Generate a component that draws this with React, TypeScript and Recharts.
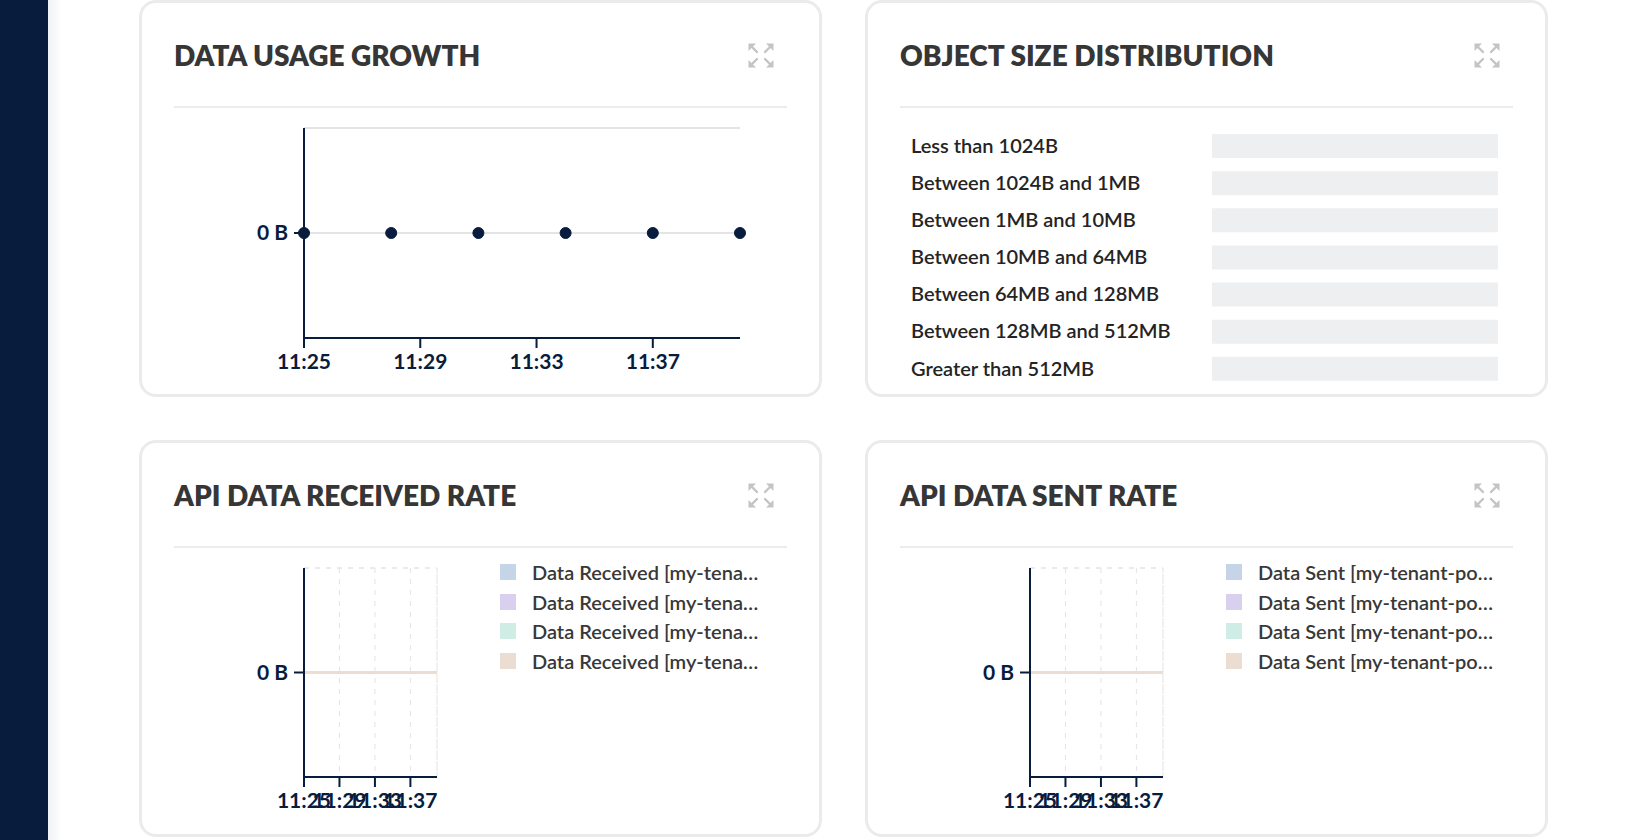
import {
  LineChart,
  Line,
  AreaChart,
  Area,
  BarChart,
  Bar,
  XAxis,
  YAxis,
  CartesianGrid,
  ReferenceLine,
  Legend,
} from "recharts";

// time samples (hh:mm) shared by the time series charts
const usageTimes = ["11:25", "11:28", "11:31", "11:34", "11:37", "11:40"];
const usageValues = [0, 0, 0, 0, 0, 0];
const timeTicks = ["11:25", "11:29", "11:33", "11:37"];

const rateTimes = ["11:25", "11:28", "11:31", "11:34", "11:37", "11:40"];
const receivedNames = [
  "Data Received [my-tenant-pool-0-0]",
  "Data Received [my-tenant-pool-0-1]",
  "Data Received [my-tenant-pool-0-2]",
  "Data Received [my-tenant-pool-0-3]",
];
const receivedValues = [
  [0, 0, 0, 0, 0, 0],
  [0, 0, 0, 0, 0, 0],
  [0, 0, 0, 0, 0, 0],
  [0, 0, 0, 0, 0, 0],
];
const sentNames = [
  "Data Sent [my-tenant-pool-0-0]",
  "Data Sent [my-tenant-pool-0-1]",
  "Data Sent [my-tenant-pool-0-2]",
  "Data Sent [my-tenant-pool-0-3]",
];
const sentValues = [
  [0, 0, 0, 0, 0, 0],
  [0, 0, 0, 0, 0, 0],
  [0, 0, 0, 0, 0, 0],
  [0, 0, 0, 0, 0, 0],
];

const sizeBuckets = [
  "Less than 1024B",
  "Between 1024B and 1MB",
  "Between 1MB and 10MB",
  "Between 10MB and 64MB",
  "Between 64MB and 128MB",
  "Between 128MB and 512MB",
  "Greater than 512MB",
];
const sizeCounts = [0, 0, 0, 0, 0, 0, 0];
const SIZE_MAX = 1; // full scale of the distribution bars

const SERIES_COLORS = ["#c6d4e8", "#d9cfee", "#cfece5", "#ecddd2"];
const NAVY = "#081c3e";
const FONT = "Lato, 'Noto Sans', sans-serif";

const toMin = (s: string) => {
  const [h, m] = s.split(":").map(Number);
  return h * 60 + m;
};
const fmtMin = (v: number) =>
  `${Math.floor(v / 60)}:${String(v % 60).padStart(2, "0")}`;

const T0 = toMin(usageTimes[0]);
const T1 = toMin(usageTimes[usageTimes.length - 1]);
const tickMinutes = timeTicks.map(toMin);

const usageData = usageTimes.map((t, i) => ({ t: toMin(t), v: usageValues[i] }));

function buildRate(names: string[], values: number[][]) {
  return rateTimes.map((t, i) => {
    const row: Record<string, number> = { t: toMin(t) };
    names.forEach((n, k) => (row[`s${k}`] = values[k][i]));
    return row;
  });
}
const receivedData = buildRate(receivedNames, receivedValues);
const sentData = buildRate(sentNames, sentValues);
const sizeData = sizeBuckets.map((name, i) => ({
  name,
  count: sizeCounts[i],
  rest: SIZE_MAX - sizeCounts[i],
}));

const axisTick = { fill: NAVY, fontSize: 21, fontFamily: FONT, fontWeight: 700 };
const axisLine = { stroke: NAVY, strokeWidth: 2 };
const GRID = "#e3e3e3";

function ExpandIcon() {
  const c = "#c4c4c4";
  return (
    <svg width={28} height={27} style={{ position: "absolute", left: 605, top: 39 }}>
      <g stroke={c} strokeWidth={2.4} fill="none" strokeLinecap="round">
        <path d="M10 10 L5 5" />
        <path d="M18 10 L23 5" />
        <path d="M10 17 L5 22" />
        <path d="M18 17 L23 22" />
      </g>
      <g fill={c}>
        <path d="M1.5 1.5 L9 1.5 L1.5 9 Z" />
        <path d="M26.5 1.5 L19 1.5 L26.5 9 Z" />
        <path d="M1.5 25.5 L9 25.5 L1.5 18 Z" />
        <path d="M26.5 25.5 L19 25.5 L26.5 18 Z" />
      </g>
    </svg>
  );
}

function Card({ left, top, title, children }: any) {
  return (
    <div
      style={{
        position: "absolute",
        left,
        top,
        width: 683,
        height: 397,
        boxSizing: "border-box",
        border: "3px solid #ebebeb",
        borderRadius: 17,
        background: "#fff",
      }}
    >
      <div
        style={{
          position: "absolute",
          left: 32,
          top: 32,
          height: 40,
          lineHeight: "40px",
          fontFamily: FONT,
          fontSize: 28,
          fontWeight: 800,
          color: "#363636",
          whiteSpace: "nowrap",
        }}
      >
        {title}
      </div>
      <ExpandIcon />
      <div
        style={{
          position: "absolute",
          left: 32,
          right: 32,
          top: 103,
          height: 2,
          background: "#ececec",
        }}
      />
      {children}
    </div>
  );
}

function RateLegend(props: any) {
  const { payload } = props;
  return (
    <div style={{ fontFamily: FONT, marginTop: -1 }}>
      {(payload || []).map((e: any) => (
        <div
          key={e.value}
          style={{ display: "flex", alignItems: "center", height: 29.8 }}
        >
          <div style={{ width: 16, height: 16, background: e.color, flex: "none" }} />
          <div
            style={{
              marginLeft: 16,
              width: 236,
              overflow: "hidden",
              textOverflow: "ellipsis",
              whiteSpace: "nowrap",
              fontSize: 20,
              fontWeight: 600,
              color: "#383838",
            }}
          >
            {e.value}
          </div>
        </div>
      ))}
    </div>
  );
}

function RateChart({ data, names }: { data: any[]; names: string[] }) {
  return (
    <div style={{ position: "absolute", left: 32, top: 115 }}>
      <AreaChart
        width={613}
        height={259}
        data={data}
        margin={{ top: 10, right: 350, left: 0, bottom: 10 }}
      >
        <CartesianGrid stroke={GRID} strokeDasharray="5 6" />
        <ReferenceLine y={1} stroke={GRID} strokeDasharray="5 6" />
        <ReferenceLine x={T1} stroke={GRID} strokeDasharray="5 6" />
        <XAxis
          dataKey="t"
          type="number"
          domain={[T0, T1]}
          ticks={tickMinutes}
          interval={0}
          tickFormatter={fmtMin}
          tickSize={10}
          tickMargin={6}
          height={30}
          axisLine={axisLine}
          tickLine={axisLine}
          tick={axisTick}
        />
        <YAxis
          width={130}
          domain={[-1, 1]}
          ticks={[0]}
          tickFormatter={(v) => `${v} B`}
          tickSize={10}
          tickMargin={6}
          axisLine={axisLine}
          tickLine={axisLine}
          tick={axisTick}
        />
        <Legend
          layout="vertical"
          align="center"
          verticalAlign="middle"
          wrapperStyle={{ left: 326, top: 0, width: 275 }}
          content={<RateLegend />}
        />
        {names.map((n, k) => (
          <Area
            key={n}
            name={n}
            dataKey={`s${k}`}
            stackId="1"
            type="monotone"
            stroke={SERIES_COLORS[k]}
            strokeWidth={3}
            fill={SERIES_COLORS[k]}
            fillOpacity={0.6}
            dot={false}
            activeDot={false}
            isAnimationActive={false}
          />
        ))}
      </AreaChart>
    </div>
  );
}

function SizeTick(props: any) {
  const { y, payload } = props;
  return (
    <text
      x={11}
      y={y}
      dy="0.355em"
      fill="#242424"
      fontSize={20}
      fontFamily={FONT}
      fontWeight={600}
    >
      {payload.value}
    </text>
  );
}

export default function App() {
  return (
    <div
      style={{
        position: "fixed",
        left: 0,
        top: 0,
        width: 1640,
        height: 840,
        background: "#fff",
        overflow: "hidden",
      }}
    >
      <div
        style={{
          position: "absolute",
          left: 0,
          top: 0,
          width: 48,
          height: 840,
          background: "#081c3e",
        }}
      />
      <div
        style={{
          position: "absolute",
          left: 48,
          top: 0,
          width: 14,
          height: 840,
          background: "linear-gradient(to right, #f1f2f4, #fff)",
        }}
      />

      <Card left={139} top={0} title="DATA USAGE GROWTH">
        <div style={{ position: "absolute", left: 32, top: 115 }}>
          <LineChart
            width={586}
            height={260}
            data={usageData}
            margin={{ top: 10, right: 20, left: 0, bottom: 10 }}
          >
            <CartesianGrid vertical={false} stroke="#e4e4e4" strokeWidth={2} />
            <ReferenceLine y={1} stroke="#e4e4e4" strokeWidth={2} />
            <XAxis
              dataKey="t"
              type="number"
              domain={[T0, T1]}
              ticks={tickMinutes}
              interval={0}
              tickFormatter={fmtMin}
              tickSize={10}
              tickMargin={6}
              height={30}
              axisLine={axisLine}
              tickLine={axisLine}
              tick={axisTick}
            />
            <YAxis
              width={130}
              domain={[-1, 1]}
              ticks={[0]}
              tickFormatter={(v) => `${v} B`}
              tickSize={10}
              tickMargin={6}
              axisLine={axisLine}
              tickLine={axisLine}
              tick={axisTick}
            />
            <Line
              dataKey="v"
              stroke="#e4e4e4"
              strokeWidth={2}
              dot={{ r: 5.5, fill: NAVY, stroke: NAVY, strokeWidth: 1 }}
              activeDot={false}
              isAnimationActive={false}
            />
          </LineChart>
        </div>
      </Card>

      <Card left={865} top={0} title="OBJECT SIZE DISTRIBUTION">
        <div style={{ position: "absolute", left: 32, top: 106 }}>
          <BarChart
            width={598}
            height={280}
            data={sizeData}
            layout="vertical"
            margin={{ top: 18, right: 0, left: 0, bottom: 2 }}
          >
            <XAxis type="number" domain={[0, SIZE_MAX]} hide />
            <YAxis
              type="category"
              dataKey="name"
              width={312}
              axisLine={false}
              tickLine={false}
              interval={0}
              tick={<SizeTick />}
            />
            <Bar
              dataKey="count"
              stackId="size"
              barSize={24}
              fill="#c6d4e8"
              isAnimationActive={false}
            />
            <Bar
              dataKey="rest"
              stackId="size"
              barSize={24}
              fill="#eeeff1"
              isAnimationActive={false}
            />
          </BarChart>
        </div>
      </Card>

      <Card left={139} top={440} title="API DATA RECEIVED RATE">
        <RateChart data={receivedData} names={receivedNames} />
      </Card>

      <Card left={865} top={440} title="API DATA SENT RATE">
        <RateChart data={sentData} names={sentNames} />
      </Card>
    </div>
  );
}
